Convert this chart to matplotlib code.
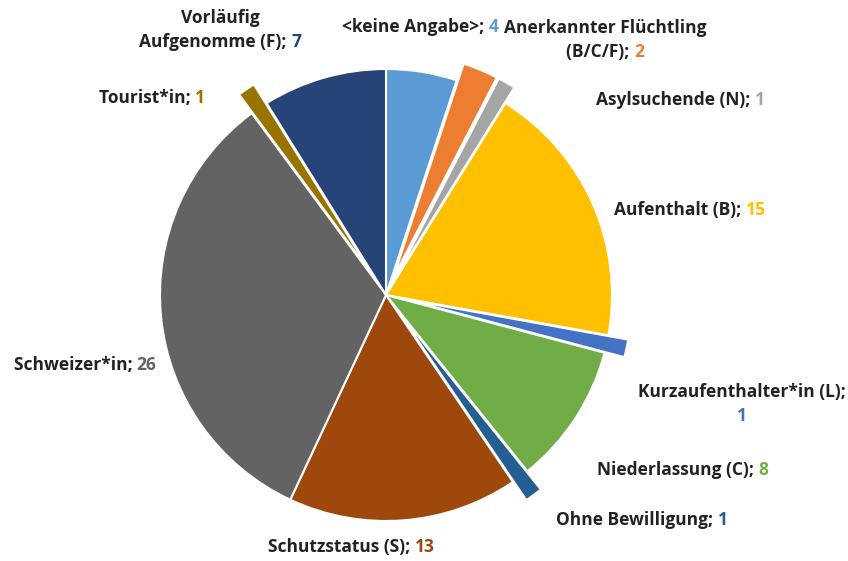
import matplotlib.pyplot as plt

plt.rcParams['font.family'] = ['Open Sans', 'DejaVu Sans']

# Data
names = ['<keine Angabe>', 'Anerkannter Flüchtling\n(B/C/F)', 'Asylsuchende (N)',
         'Aufenthalt (B)', 'Kurzaufenthalter*in (L);\n', 'Niederlassung (C)',
         'Ohne Bewilligung', 'Schutzstatus (S)', 'Schweizer*in', 'Tourist*in',
         'Vorläufig\nAufgenomme (F)']
values = [4, 2, 1, 15, 1, 8, 1, 13, 26, 1, 7]
colors = ['#5B9BD5', '#ED7D31', '#A5A5A5', '#FFC000', '#4472C4', '#70AD47',
          '#255E91', '#9E480E', '#636363', '#997300', '#264478']
explode = [0, 0.08, 0.08, 0, 0.09, 0, 0.1, 0, 0, 0.1, 0]

# label centres in pixels (x, y of last line)
label_pos = [(420, 27), (605, 52), (680, 100), (690, 210), (742, 416), (683, 470),
             (642, 520), (351, 547), (85, 365), (152, 98), (220, 42)]

W, H = 848, 561
cx, cy, R = 386, 295, 226

fig = plt.figure(figsize=(W / 100, H / 100), dpi=100)
ax = fig.add_axes([0, 0, 1, 1])

ax.pie(values, colors=colors, explode=explode, startangle=90, counterclock=False,
       wedgeprops=dict(edgecolor='white', linewidth=1.5))
ax.set_xlim(-cx / R, (W - cx) / R)
ax.set_ylim(-(H - cy) / R, cy / R)
ax.set_aspect('equal')
ax.axis('off')

renderer = fig.canvas.get_renderer()
dark = '#222222'
fs = 12.5
line_h = 24
for name, val, col, (px, py) in zip(names, values, colors, label_pos):
    lines = name.split('\n')
    last = lines[-1]
    for i, ln in enumerate(lines[:-1]):
        fig.text(px / W, 1 - (py - line_h * (len(lines) - 1 - i)) / H, ln,
                 ha='center', va='center', fontsize=fs, fontweight='bold', color=dark)
    if last == '':
        # value on its own line
        fig.text(px / W, 1 - py / H, str(val), ha='center', va='center',
                 fontsize=fs, fontweight='bold', color=col)
        continue
    full = fig.text(px / W, 1 - py / H, last + '; ' + str(val), ha='center', va='center',
                    fontsize=fs, fontweight='bold')
    bb = full.get_window_extent(renderer)
    full.remove()
    t = fig.text(bb.x0 / W, 1 - py / H, last + '; ', ha='left', va='center',
                 fontsize=fs, fontweight='bold', color=dark)
    tb = t.get_window_extent(renderer)
    fig.text(tb.x1 / W, 1 - py / H, str(val), ha='left', va='center',
             fontsize=fs, fontweight='bold', color=col)

fig.savefig('out.png', dpi=100)
